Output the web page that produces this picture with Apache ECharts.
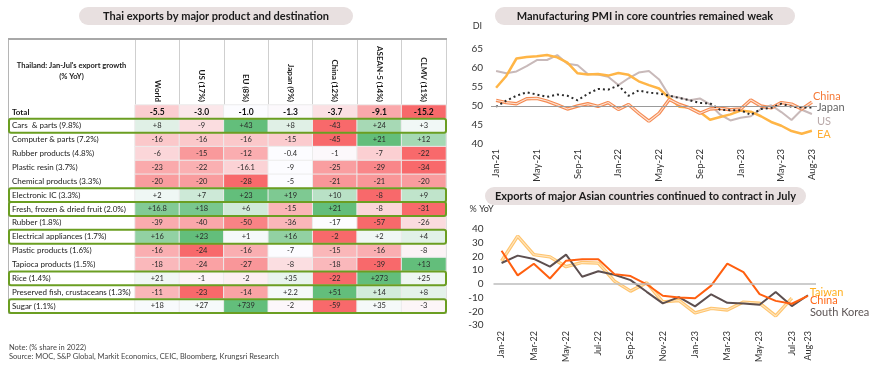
<!DOCTYPE html>
<html>
<head>
<meta charset="utf-8">
<script src="https://cdn.jsdelivr.net/npm/echarts@6/dist/echarts.min.js"></script>
<style>
  html, body { margin: 0; padding: 0; background: #fff; }
  #chart { width: 870px; height: 376px; }
</style>
</head>
<body>
<div id="chart"></div>
<script>
const FONT = 'Lato, "Noto Sans", sans-serif'

// ---- table: Thai exports by product and destination (% YoY, Jan-Jul)
const destinations = ['World', 'US (17%)', 'EU (8%)', 'Japan (9%)', 'China (12%)', 'ASEAN-5 (14%)', 'CLMV (11%)']
const products = [
  'Total', 'Cars  & parts (9.8%)', 'Computer & parts (7.2%)', 'Rubber products (4.8%)',
  'Plastic resin (3.7%)', 'Chemical products (3.3%)', 'Electronic IC (3.3%)',
  'Fresh, frozen & dried fruit (2.0%)', 'Rubber (1.8%)', 'Electrical appliances (1.7%)',
  'Plastic products (1.6%)', 'Tapioca products (1.5%)', 'Rice (1.4%)',
  'Preserved fish, crustaceans (1.3%)', 'Sugar (1.1%)'
]
const growth = [
  [-5.5, -3.0, -1.0, -1.3, -3.7, -9.1, -15.2],
  [8, -9, 43, 8, -43, 24, 3],
  [-16, -16, -16, -15, -45, 21, 12],
  [-6, -15, -12, -0.4, -1, -7, -22],
  [-23, -22, -16.1, -9, -25, -29, -34],
  [-20, -20, -28, -5, -21, -21, -20],
  [2, 7, 23, 19, 10, -8, 9],
  [16.8, 18, 6, -15, 21, -8, -31],
  [-39, -40, -50, -36, -17, -57, -26],
  [16, 23, 1, 16, -2, 2, 4],
  [-16, -24, -16, -7, -15, -16, -8],
  [-18, -24, -27, -8, -18, -39, 13],
  [21, -1, -2, 35, -22, 273, 25],
  [-11, -23, -14, 2.2, 51, 14, 8],
  [18, 27, 739, -2, -59, 35, -3]
]
const highlightRows = [1, 6, 7, 9, 12, 14]

// ---- manufacturing PMI
const pmiMonths = [
  'Jan-21', 'Feb-21', 'Mar-21', 'Apr-21', 'May-21', 'Jun-21', 'Jul-21', 'Aug-21',
  'Sep-21', 'Oct-21', 'Nov-21', 'Dec-21', 'Jan-22', 'Feb-22', 'Mar-22', 'Apr-22',
  'May-22', 'Jun-22', 'Jul-22', 'Aug-22', 'Sep-22', 'Oct-22', 'Nov-22', 'Dec-22',
  'Jan-23', 'Feb-23', 'Mar-23', 'Apr-23', 'May-23', 'Jun-23', 'Jul-23', 'Aug-23'
]
const pmiChina = [51.5, 50.9, 50.6, 51.9, 52.0, 51.3, 50.3, 49.2, 50.0, 50.6, 49.9, 50.9, 49.1, 50.4, 48.1, 46.0,
  48.1, 51.7, 50.4, 49.5, 48.1, 49.2, 49.4, 49.0, 49.2, 51.6, 50.0, 49.5, 50.9, 50.5, 49.2, 51.0]
const pmiJapan = [49.8, 51.4, 52.7, 53.6, 53.0, 52.4, 53.0, 52.7, 51.5, 53.2, 54.5, 54.3, 55.4, 52.7, 54.1, 53.5,
  53.3, 52.7, 52.1, 51.5, 50.8, 50.7, 49.0, 48.9, 48.9, 47.7, 49.2, 49.5, 50.6, 49.8, 49.6, 49.6]
const pmiUS = [59.2, 58.6, 59.1, 60.5, 62.1, 62.1, 63.4, 61.1, 60.7, 58.4, 58.3, 57.7, 55.5, 57.3, 58.8, 59.2,
  57.0, 52.7, 52.2, 51.5, 52.0, 50.4, 47.7, 46.2, 46.9, 47.3, 49.2, 50.2, 48.4, 46.3, 49.0, 47.9]
const pmiEA = [54.8, 57.9, 62.5, 62.9, 63.1, 63.4, 62.8, 61.4, 58.6, 58.3, 58.4, 58.0, 58.7, 58.2, 56.5, 55.5,
  54.6, 52.1, 49.8, 49.6, 48.4, 46.4, 47.1, 47.8, 48.8, 48.5, 47.3, 45.8, 44.8, 43.4, 42.7, 43.5]

// ---- Asian exports (% YoY)
const expMonths = [
  'Jan-22', 'Feb-22', 'Mar-22', 'Apr-22', 'May-22', 'Jun-22', 'Jul-22', 'Aug-22', 'Sep-22', 'Oct-22',
  'Nov-22', 'Dec-22', 'Jan-23', 'Feb-23', 'Mar-23', 'Apr-23', 'May-23', 'Jun-23', 'Jul-23', 'Aug-23'
]
const expTaiwan = [16.7, 34.8, 21.3, 19.7, 12.5, 15.6, 15.1, 2.0, -5.3, 0.8, -13.1, -12.1, -21.2, -17.9, -19.1, -13.3, -14.1, -23.4, -10.4]
const expChina = [24.1, 6.2, 14.7, 3.9, 16.9, 17.9, 18.0, 7.1, 5.7, -0.3, -8.7, -9.9, -10.5, -1.3, 14.8, 8.5, -7.5, -12.4, -14.5, -8.8]
const expKorea = [15.2, 20.6, 18.2, 12.6, 21.3, 5.2, 9.2, 6.6, 2.7, -5.8, -14.2, -9.7, -16.4, -7.6, -13.8, -14.3, -15.3, -6.0, -16.2, -8.3]

// layout
const tbl = { left: 135, top: 105, right: 446, bottom: 313, outerLeft: 8, headTop: 39 }
const labelColWidth = tbl.left - tbl.outerLeft - 1

// per-row colour scale: min -> red, 0 (or row max if all negative) -> white, max -> green
const heatData = []
growth.forEach((row, r) => {
  const hi = Math.max(...row)
  const lo = Math.min(...row)
  const mid = Math.max(Math.min(0, hi), lo)
  row.forEach((v, c) => {
    let t = 0
    if (v > mid) t = (v - mid) / (hi - mid)
    else if (v < mid) t = -(mid - v) / (mid - lo)
    const item = { value: [c, r, t, v] }
    if (r === 0) item.label = { fontWeight: 'bold', fontSize: 8.5, color: '#111' }
    heatData.push(item)
  })
})

function fmtCell(v, r) {
  if (r === 0) return v.toFixed(1)
  return v > 0 ? '+' + v : String(v)
}

function pill(x, y, w, h, text) {
  return {
    type: 'group',
    children: [
      { type: 'rect', shape: { x: x, y: y, width: w, height: h, r: h / 2 }, style: { fill: '#e8e0e0' } },
      { type: 'text', x: x + w / 2, y: y + h / 2, style: {
        text: text, fill: '#1a1a1a', font: 'bold 11px ' + FONT, align: 'center', verticalAlign: 'middle' } }
    ]
  }
}

let myChart = echarts.init(document.getElementById('chart'))
myChart.setOption({
  animation: false,
  textStyle: { fontFamily: FONT },
  graphic: [
    pill(79, 7, 274, 18, 'Thai exports by major product and destination'),
    pill(495, 7, 300, 18, 'Manufacturing PMI in core countries remained weak'),
    pill(485, 187, 321, 18, 'Exports of major Asian countries continued to contract in July'),
    {
      type: 'rect',
      shape: { x: tbl.outerLeft + 0.5, y: tbl.headTop + 0.5, width: tbl.right - tbl.outerLeft, height: tbl.bottom - tbl.headTop },
      style: { fill: 'none', stroke: '#b5b5b5', lineWidth: 1 }
    },
    {
      type: 'line',
      shape: { x1: tbl.outerLeft, y1: tbl.headTop, x2: tbl.right + 1, y2: tbl.headTop },
      style: { stroke: '#a8a8a8', lineWidth: 2 }
    },
    {
      type: 'text', x: (tbl.outerLeft + tbl.left) / 2, y: 71,
      style: {
        text: "Thailand: Jan-Jul's export growth\n(% YoY)", fill: '#1a1a1a',
        font: 'bold 7.5px ' + FONT, align: 'center', verticalAlign: 'middle', lineHeight: 11
      }
    },
    {
      type: 'text', x: 9, y: 352,
      style: {
        text: 'Note: (% share in 2022)\nSource: MOC, S&P Global, Markit Economics, CEIC, Bloomberg, Krungsri Research',
        fill: '#444', font: '7.5px ' + FONT, verticalAlign: 'middle', lineHeight: 9
      }
    }
  ],
  visualMap: {
    type: 'continuous', show: false, seriesIndex: 0, dimension: 2, min: -1, max: 1,
    inRange: { color: ['#f8696b', '#fcfcff', '#63be7b'] }
  },
  grid: [
    { left: tbl.left, top: tbl.top, width: tbl.right - tbl.left, height: tbl.bottom - tbl.top },
    { left: 491, top: 49, width: 326, height: 95 },
    { left: 493.5, top: 229, width: 322.5, height: 96 }
  ],
  xAxis: [
    {
      gridIndex: 0, type: 'category', data: destinations, position: 'top',
      axisLine: { show: false },
      axisTick: { show: true, length: tbl.top - tbl.headTop - 1, lineStyle: { color: '#cfcfcf' } },
      axisLabel: { interval: 0, rotate: 90, margin: 3, fontSize: 8, fontWeight: 'bold', color: '#1a1a1a' },
      splitLine: { show: false }
    },
    {
      gridIndex: 1, type: 'category', data: pmiMonths, boundaryGap: true,
      axisLine: { show: false }, axisTick: { show: false },
      axisLabel: {
        rotate: 90, margin: 5, fontSize: 9.5, color: '#333',
        interval: (i) => i % 4 === 0 || i === pmiMonths.length - 1
      }
    },
    {
      gridIndex: 2, type: 'category', data: expMonths, boundaryGap: true,
      axisLine: { show: false }, axisTick: { show: false },
      axisLabel: {
        rotate: 90, margin: 6, fontSize: 9, color: '#333',
        interval: (i) => i % 2 === 0 || i === expMonths.length - 1
      }
    }
  ],
  yAxis: [
    {
      gridIndex: 0, type: 'category', data: products, inverse: true,
      axisLine: { show: false }, axisTick: { show: false }, splitLine: { show: false },
      axisLabel: {
        interval: 0, align: 'left', margin: tbl.left - 12, fontSize: 8, color: '#1a1a1a',
        formatter: (v) => v === 'Total' ? '{b|Total}' : v,
        rich: { b: { fontWeight: 'bold', fontSize: 8, color: '#1a1a1a' } }
      }
    },
    {
      gridIndex: 1, type: 'value', min: 40, max: 65, interval: 5,
      name: 'DI', nameLocation: 'end', nameGap: 18,
      nameTextStyle: { align: 'right', fontSize: 9, color: '#333', padding: [0, 9, 0, 0] },
      axisLine: { show: false }, axisTick: { show: false }, splitLine: { show: false },
      axisLabel: { fontSize: 10, color: '#333', margin: 8 }
    },
    {
      gridIndex: 2, type: 'value', min: -30, max: 40, interval: 10,
      name: '% YoY', nameLocation: 'end', nameGap: 15,
      nameTextStyle: { align: 'right', fontSize: 9, color: '#333', padding: [0, 0, 0, 0] },
      axisLine: { show: false }, axisTick: { show: false }, splitLine: { show: false },
      axisLabel: { fontSize: 10, color: '#333', margin: 10 }
    }
  ],
  series: [
    {
      type: 'heatmap', xAxisIndex: 0, yAxisIndex: 0,
      data: heatData,
      itemStyle: { borderColor: '#ececec', borderWidth: 1 },
      label: {
        show: true, fontSize: 7.5, color: '#2a2a2a',
        formatter: (p) => fmtCell(p.value[3], p.value[1])
      },
      emphasis: { disabled: true }
    },
    {
      type: 'custom', xAxisIndex: 0, yAxisIndex: 0, coordinateSystem: 'cartesian2d',
      data: highlightRows.map((r) => [0, r]),
      encode: { x: 0, y: 1 }, z: 5, silent: true, clip: false,
      renderItem: (params, api) => {
        const row = api.value(1)
        const first = api.coord([0, row])
        const last = api.coord([destinations.length - 1, row])
        const size = api.size([1, 1])
        const x0 = first[0] - size[0] / 2 - labelColWidth
        const x1 = last[0] + size[0] / 2
        return {
          type: 'rect',
          shape: { x: x0, y: first[1] - size[1] / 2, width: x1 - x0, height: size[1], r: 2 },
          style: { fill: 'none', stroke: '#6b9e22', lineWidth: 2 }
        }
      }
    },
    // PMI
    {
      name: 'US', type: 'line', xAxisIndex: 1, yAxisIndex: 1, data: pmiUS, showSymbol: false,
      lineStyle: { color: '#c8b9b9', width: 2 },
      endLabel: { show: true, formatter: 'US', color: '#b9a9a9', fontSize: 11, distance: 5, offset: [0, 7] },
      markLine: {
        silent: true, symbol: 'none', label: { show: false },
        lineStyle: { color: '#9a9a9a', width: 1, type: 'solid' },
        data: [{ yAxis: 50 }]
      }
    },
    {
      name: 'EA', type: 'line', xAxisIndex: 1, yAxisIndex: 1, data: pmiEA, showSymbol: false,
      lineStyle: { color: '#ffb546', width: 2.5 },
      endLabel: { show: true, formatter: 'EA', color: '#ffae35', fontSize: 11, distance: 5, offset: [0, 4] }
    },
    {
      name: 'China', type: 'line', xAxisIndex: 1, yAxisIndex: 1, data: pmiChina, showSymbol: false,
      lineStyle: { color: '#f58a52', width: 3.4 },
      endLabel: { show: true, formatter: 'China', color: '#f57a38', fontSize: 11, distance: 1, offset: [0, -6] }
    },
    {
      type: 'line', xAxisIndex: 1, yAxisIndex: 1, data: pmiChina, showSymbol: false, silent: true,
      lineStyle: { color: '#fde2d2', width: 1.1 }
    },
    {
      name: 'Japan', type: 'line', xAxisIndex: 1, yAxisIndex: 1, data: pmiJapan, showSymbol: false,
      lineStyle: { color: '#2b2b2b', width: 2, type: [2, 3] },
      endLabel: { show: true, formatter: 'Japan', color: '#666', fontSize: 11, distance: 5, offset: [0, 0] }
    },
    // Asian exports
    {
      name: 'Taiwan', type: 'line', xAxisIndex: 2, yAxisIndex: 2, data: expTaiwan, showSymbol: false,
      lineStyle: { color: '#ffc46e', width: 3.4 },
      endLabel: { show: true, formatter: 'Taiwan', color: '#ffb021', fontSize: 11, distance: 2, offset: [16, -6] },
      markLine: {
        silent: true, symbol: 'none', label: { show: false },
        lineStyle: { color: '#bdbdbd', width: 1.5, type: 'solid' },
        data: [{ yAxis: 0 }]
      }
    },
    {
      type: 'line', xAxisIndex: 2, yAxisIndex: 2, data: expTaiwan, showSymbol: false, silent: true,
      lineStyle: { color: '#ffe5bd', width: 1.1 }
    },
    {
      name: 'South Korea', type: 'line', xAxisIndex: 2, yAxisIndex: 2, data: expKorea, showSymbol: false,
      lineStyle: { color: '#5d4f4f', width: 2 },
      endLabel: { show: true, formatter: 'South Korea', color: '#5d5555', fontSize: 11, distance: 2, offset: [0, 17] }
    },
    {
      name: 'China', type: 'line', xAxisIndex: 2, yAxisIndex: 2, data: expChina, showSymbol: false,
      lineStyle: { color: '#ff5f0f', width: 2 },
      endLabel: { show: true, formatter: 'China', color: '#ff6a1a', fontSize: 11, distance: 2, offset: [0, 5] }
    }
  ]
})
</script>
</body>
</html>
